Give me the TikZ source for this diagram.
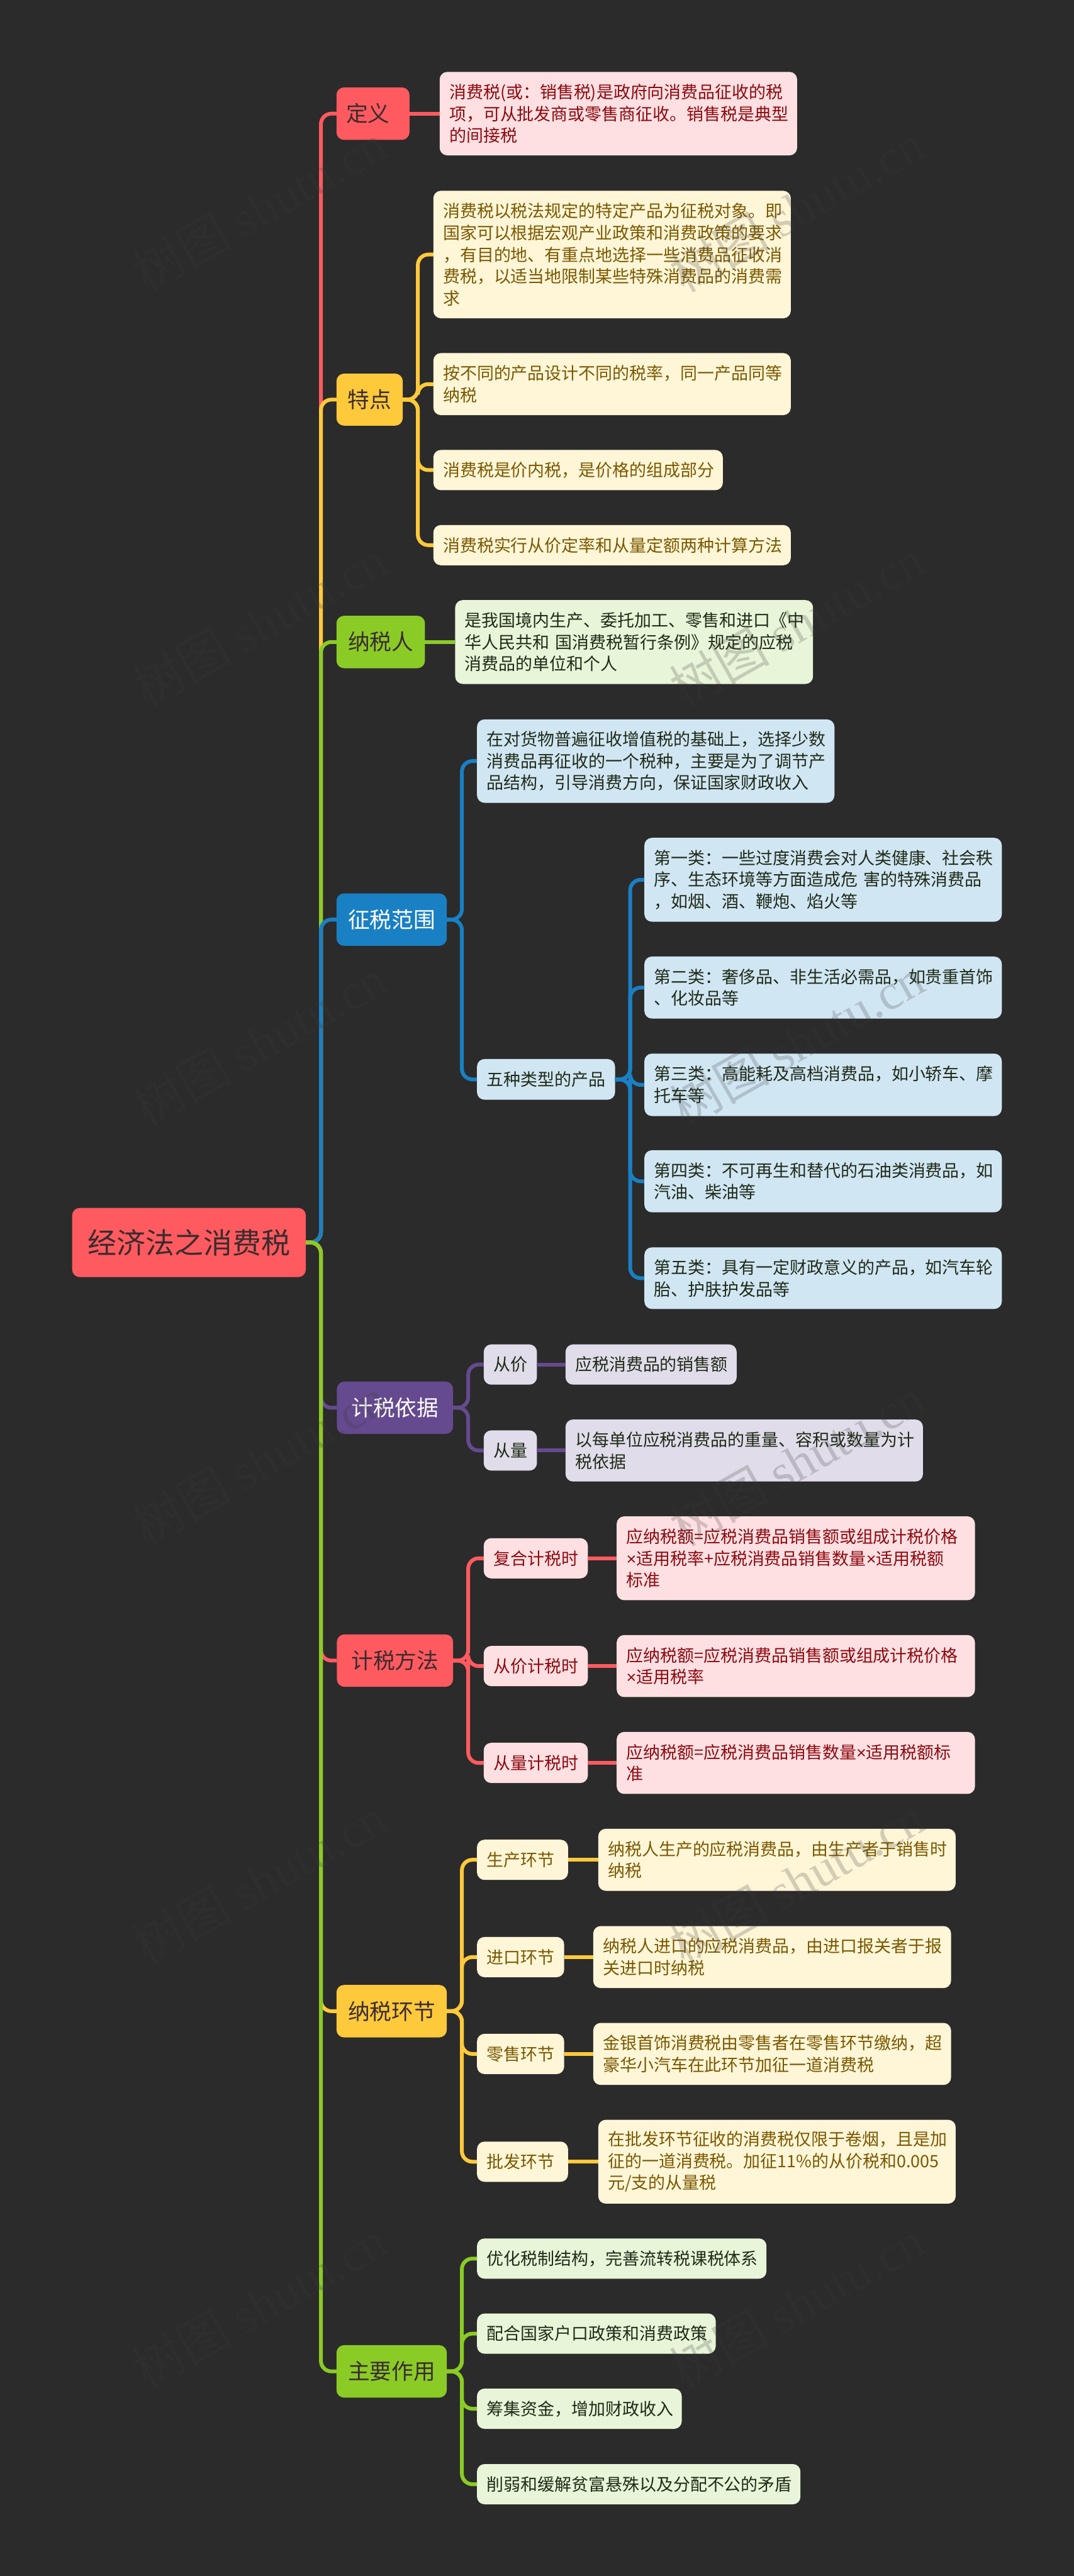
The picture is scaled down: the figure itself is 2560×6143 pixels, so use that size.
\documentclass[tikz,border=0pt]{standalone}
\usepackage{fontspec}
\setmainfont{Noto Sans CJK SC}
\newfontfamily\wmfont{Liberation Serif}
\newfontfamily\latinsans{Liberation Sans}
\newcommand{\cma}{^^^^ff0c}
\newcommand{\cln}{^^^^ff1a}
\newcommand{\tms}{{\latinsans\char"D7}}

\definecolor{bgdark}{HTML}{2B2B2B}
\definecolor{mapred}{HTML}{FE5A5F}
\definecolor{mapyellow}{HTML}{FEC93B}
\definecolor{mapgreen}{HTML}{8BCB26}
\definecolor{mapblue}{HTML}{1A80C4}
\definecolor{mappurple}{HTML}{654A8F}
\definecolor{paleRed}{HTML}{FFE0E2}
\definecolor{paleYellow}{HTML}{FFF6D8}
\definecolor{paleGreen}{HTML}{E9F5D8}
\definecolor{paleBlue}{HTML}{D1E6F3}
\definecolor{palePurple}{HTML}{E0DCE9}
\definecolor{inkRed}{HTML}{8B0A10}
\definecolor{inkYellow}{HTML}{7A5800}
\definecolor{inkDark}{HTML}{1F2A18}
\definecolor{inkTop}{HTML}{3A2C2E}
\definecolor{wmgray}{HTML}{393939}

\tikzset{
  wh/.style 2 args={minimum width=#1*0.01cm, minimum height=#2*0.01cm},
  mapnode/.style={anchor=west, rounded corners=0.18cm, inner xsep=0.23cm, inner ysep=0pt, outer sep=0pt},
  topic/.style={mapnode, font=\fontsize{14.8pt}{18pt}\selectfont, align=center, text=inkTop},
  small/.style={mapnode, font=\fontsize{11.5pt}{14.8pt}\selectfont, align=center},
  leaf/.style 2 args={mapnode, wh={#1}{#2}, text width=(#1-46)*0.01cm, align=left, font=\fontsize{11.5pt}{14.8pt}\selectfont},
  bus/.style={rounded corners=0.25cm, to path={-- ++(36,0) |- (\tikztotarget)}},
  wire/.style={line width=0.09cm, draw=#1},
  wmark/.style={rotate=29.5, anchor=base west, inner sep=0pt, text=wmgray, opacity=0.22, font=\fontsize{34pt}{34pt}\selectfont}
}

\begin{document}
\begin{tikzpicture}[x=0.01cm,y=-0.01cm]
  \fill[bgdark] (0,0) rectangle (2560,6143);

  % root
  \node[topic, fill=mapred, wh={557}{165}, font=\fontsize{19.6pt}{24pt}\selectfont] (root) at (172,2963) {经济法之消费税};

  % definition
  \node[leaf={174}{125}, fill=mapred, text=inkTop, font=\fontsize{14.8pt}{18pt}\selectfont] (dingyi) at (802,271) {定义};
  \node[leaf={852}{199}, fill=paleRed, text=inkRed] (dingyiA) at (1048,271) {消费税(或\cln 销售税)是政府向消费品征收的税\\项\cma 可从批发商或零售商征收。销售税是典型\\的间接税};

  % features
  \node[topic, fill=mapyellow, wh={158}{124}] (tedian) at (802,953) {特点};
  \node[leaf={852}{304}, fill=paleYellow, text=inkYellow] (tedianA) at (1033,607) {消费税以税法规定的特定产品为征税对象。即\\国家可以根据宏观产业政策和消费政策的要求\\\cma 有目的地、有重点地选择一些消费品征收消\\费税\cma 以适当地限制某些特殊消费品的消费需\\求};
  \node[leaf={852}{148}, fill=paleYellow, text=inkYellow] (tedianB) at (1033,916) {按不同的产品设计不同的税率\cma 同一产品同等\\纳税};
  \node[leaf={690}{96}, fill=paleYellow, text=inkYellow] (tedianC) at (1033,1121) {消费税是价内税\cma 是价格的组成部分};
  \node[leaf={852}{96}, fill=paleYellow, text=inkYellow] (tedianD) at (1033,1300) {消费税实行从价定率和从量定额两种计算方法};

  % taxpayer
  \node[topic, fill=mapgreen, wh={211}{125}] (nashuiren) at (802,1531) {纳税人};
  \node[leaf={853}{200}, fill=paleGreen, text=inkDark] (nashuirenA) at (1085,1531) {是我国境内生产、委托加工、零售和进口《中\\华人民共和 国消费税暂行条例》规定的应税\\消费品的单位和个人};

  % scope
  \node[topic, fill=mapblue, wh={263}{125}, text=white] (fanwei) at (802,2193) {征税范围};
  \node[leaf={852}{199}, fill=paleBlue, text=inkDark] (fanweiA) at (1137,1815) {在对货物普遍征收增值税的基础上\cma 选择少数\\消费品再征收的一个税种\cma 主要是为了调节产\\品结构\cma 引导消费方向\cma 保证国家财政收入};
  \node[small, fill=paleBlue, text=inkDark, wh={328}{97}] (wuzhong) at (1137,2574) {五种类型的产品};
  \node[leaf={852}{200}, fill=paleBlue, text=inkDark] (leiA) at (1536,2098) {第一类\cln 一些过度消费会对人类健康、社会秩\\序、生态环境等方面造成危 害的特殊消费品\\\cma 如烟、酒、鞭炮、焰火等};
  \node[leaf={852}{148}, fill=paleBlue, text=inkDark] (leiB) at (1536,2355) {第二类\cln 奢侈品、非生活必需品\cma 如贵重首饰\\、化妆品等};
  \node[leaf={852}{149}, fill=paleBlue, text=inkDark] (leiC) at (1536,2587) {第三类\cln 高能耗及高档消费品\cma 如小轿车、摩\\托车等};
  \node[leaf={852}{148}, fill=paleBlue, text=inkDark] (leiD) at (1536,2817) {第四类\cln 不可再生和替代的石油类消费品\cma 如\\汽油、柴油等};
  \node[leaf={852}{147}, fill=paleBlue, text=inkDark] (leiE) at (1536,3048) {第五类\cln 具有一定财政意义的产品\cma 如汽车轮\\胎、护肤护发品等};

  % tax basis
  \node[topic, fill=mappurple, wh={277}{125}, text=white] (yiju) at (803,3357) {计税依据};
  \node[small, fill=palePurple, text=inkDark, wh={123}{96}] (congjia) at (1153,3254) {从价};
  \node[leaf={408}{96}, fill=palePurple, text=inkDark] (congjiaA) at (1348,3254) {应税消费品的销售额};
  \node[small, fill=palePurple, text=inkDark, wh={123}{96}] (congliang) at (1153,3459) {从量};
  \node[leaf={852}{148}, fill=palePurple, text=inkDark] (congliangA) at (1348,3459) {以每单位应税消费品的重量、容积或数量为计\\税依据};

  % tax method
  \node[topic, fill=mapred, wh={277}{125}] (fangfa) at (803,3960) {计税方法};
  \node[small, fill=paleRed, text=inkRed, wh={245}{96}] (fuhe) at (1153,3716) {复合计税时};
  \node[leaf={854}{200}, fill=paleRed, text=inkRed] (fuheA) at (1470,3716) {应纳税额=应税消费品销售额或组成计税价格\\\tms 适用税率+应税消费品销售数量\tms 适用税额\\标准};
  \node[small, fill=paleRed, text=inkRed, wh={245}{96}] (cjia) at (1153,3973) {从价计税时};
  \node[leaf={854}{148}, fill=paleRed, text=inkRed] (cjiaA) at (1470,3973) {应纳税额=应税消费品销售额或组成计税价格\\\tms 适用税率};
  \node[small, fill=paleRed, text=inkRed, wh={245}{96}] (cliang) at (1153,4204) {从量计税时};
  \node[leaf={854}{148}, fill=paleRed, text=inkRed] (cliangA) at (1470,4204) {应纳税额=应税消费品销售数量\tms 适用税额标\\准};

  % tax stage
  \node[topic, fill=mapyellow, wh={263}{125}] (huanjie) at (802,4796) {纳税环节};
  \node[leaf={217}{96}, fill=paleYellow, text=inkYellow] (shengchan) at (1137,4435) {生产环节};
  \node[leaf={852}{148}, fill=paleYellow, text=inkYellow] (shengchanA) at (1426,4435) {纳税人生产的应税消费品\cma 由生产者于销售时\\纳税};
  \node[small, fill=paleYellow, text=inkYellow, wh={205}{96}] (jinkou) at (1137,4667) {进口环节};
  \node[leaf={853}{148}, fill=paleYellow, text=inkYellow] (jinkouA) at (1414,4667) {纳税人进口的应税消费品\cma 由进口报关者于报\\关进口时纳税};
  \node[small, fill=paleYellow, text=inkYellow, wh={205}{96}] (lingshou) at (1137,4898) {零售环节};
  \node[leaf={853}{148}, fill=paleYellow, text=inkYellow] (lingshouA) at (1414,4898) {金银首饰消费税由零售者在零售环节缴纳\cma 超\\豪华小汽车在此环节加征一道消费税};
  \node[leaf={217}{96}, fill=paleYellow, text=inkYellow] (pifa) at (1137,5155) {批发环节};
  \node[leaf={852}{200}, fill=paleYellow, text=inkYellow] (pifaA) at (1426,5155) {在批发环节征收的消费税仅限于卷烟\cma 且是加\\征的一道消费税。加征11\%的从价税和0.005\\元/支的从量税};

  % main role
  \node[topic, fill=mapgreen, wh={263}{125}] (zuoyong) at (802,5655) {主要作用};
  \node[leaf={690}{96}, fill=paleGreen, text=inkDark] (zuoyongA) at (1137,5386) {优化税制结构\cma 完善流转税课税体系};
  \node[leaf={569}{96}, fill=paleGreen, text=inkDark] (zuoyongB) at (1137,5565) {配合国家户口政策和消费政策};
  \node[leaf={488}{96}, fill=paleGreen, text=inkDark] (zuoyongC) at (1137,5744) {筹集资金\cma 增加财政收入};
  \node[leaf={771}{96}, fill=paleGreen, text=inkDark] (zuoyongD) at (1137,5924) {削弱和缓解贫富悬殊以及分配不公的矛盾};

  % trunk, later branches lie on the earlier ones
  \draw[wire=mapred, bus] (root.east) to (dingyi.west);
  \draw[wire=mapyellow, bus] (root.east) to (tedian.west);
  \draw[wire=mapgreen, bus] (root.east) to (nashuiren.west);
  \draw[wire=mapblue, bus] (root.east) to (fanwei.west);
  \draw[wire=mappurple, bus] (root.east) to (yiju.west);
  \draw[wire=mapred, bus] (root.east) to (fangfa.west);
  \draw[wire=mapyellow, bus] (root.east) to (huanjie.west);
  \draw[wire=mapgreen, bus] (root.east) to (zuoyong.west);

  % branches
  \draw[wire=mapred] (dingyi.east) -- (dingyiA.west);
  \draw[wire=mapyellow, bus] (tedian.east) to (tedianA.west);
  \draw[wire=mapyellow, bus] (tedian.east) to (tedianB.west);
  \draw[wire=mapyellow, bus] (tedian.east) to (tedianC.west);
  \draw[wire=mapyellow, bus] (tedian.east) to (tedianD.west);
  \draw[wire=mapgreen] (nashuiren.east) -- (nashuirenA.west);
  \draw[wire=mapblue, bus] (fanwei.east) to (fanweiA.west);
  \draw[wire=mapblue, bus] (fanwei.east) to (wuzhong.west);
  \draw[wire=mapblue, bus] (wuzhong.east) to (leiA.west);
  \draw[wire=mapblue, bus] (wuzhong.east) to (leiB.west);
  \draw[wire=mapblue, bus] (wuzhong.east) to (leiC.west);
  \draw[wire=mapblue, bus] (wuzhong.east) to (leiD.west);
  \draw[wire=mapblue, bus] (wuzhong.east) to (leiE.west);
  \draw[wire=mappurple, bus] (yiju.east) to (congjia.west);
  \draw[wire=mappurple, bus] (yiju.east) to (congliang.west);
  \draw[wire=mappurple] (congjia.east) -- (congjiaA.west);
  \draw[wire=mappurple] (congliang.east) -- (congliangA.west);
  \draw[wire=mapred, bus] (fangfa.east) to (fuhe.west);
  \draw[wire=mapred, bus] (fangfa.east) to (cjia.west);
  \draw[wire=mapred, bus] (fangfa.east) to (cliang.west);
  \draw[wire=mapred] (fuhe.east) -- (fuheA.west);
  \draw[wire=mapred] (cjia.east) -- (cjiaA.west);
  \draw[wire=mapred] (cliang.east) -- (cliangA.west);
  \draw[wire=mapyellow, bus] (huanjie.east) to (shengchan.west);
  \draw[wire=mapyellow, bus] (huanjie.east) to (jinkou.west);
  \draw[wire=mapyellow, bus] (huanjie.east) to (lingshou.west);
  \draw[wire=mapyellow, bus] (huanjie.east) to (pifa.west);
  \draw[wire=mapyellow] (shengchan.east) -- (shengchanA.west);
  \draw[wire=mapyellow] (jinkou.east) -- (jinkouA.west);
  \draw[wire=mapyellow] (lingshou.east) -- (lingshouA.west);
  \draw[wire=mapyellow] (pifa.east) -- (pifaA.west);
  \draw[wire=mapgreen, bus] (zuoyong.east) to (zuoyongA.west);
  \draw[wire=mapgreen, bus] (zuoyong.east) to (zuoyongB.west);
  \draw[wire=mapgreen, bus] (zuoyong.east) to (zuoyongC.west);
  \draw[wire=mapgreen, bus] (zuoyong.east) to (zuoyongD.west);

  % watermark
  \foreach \wx in {349,1630}
    \foreach \wy in {700,1690,2690,3690,4690,5700}
      \node[wmark] (wm-\wx-\wy) at (\wx,\wy) {树图 {\wmfont shutu.cn}};
\end{tikzpicture}
\end{document}
